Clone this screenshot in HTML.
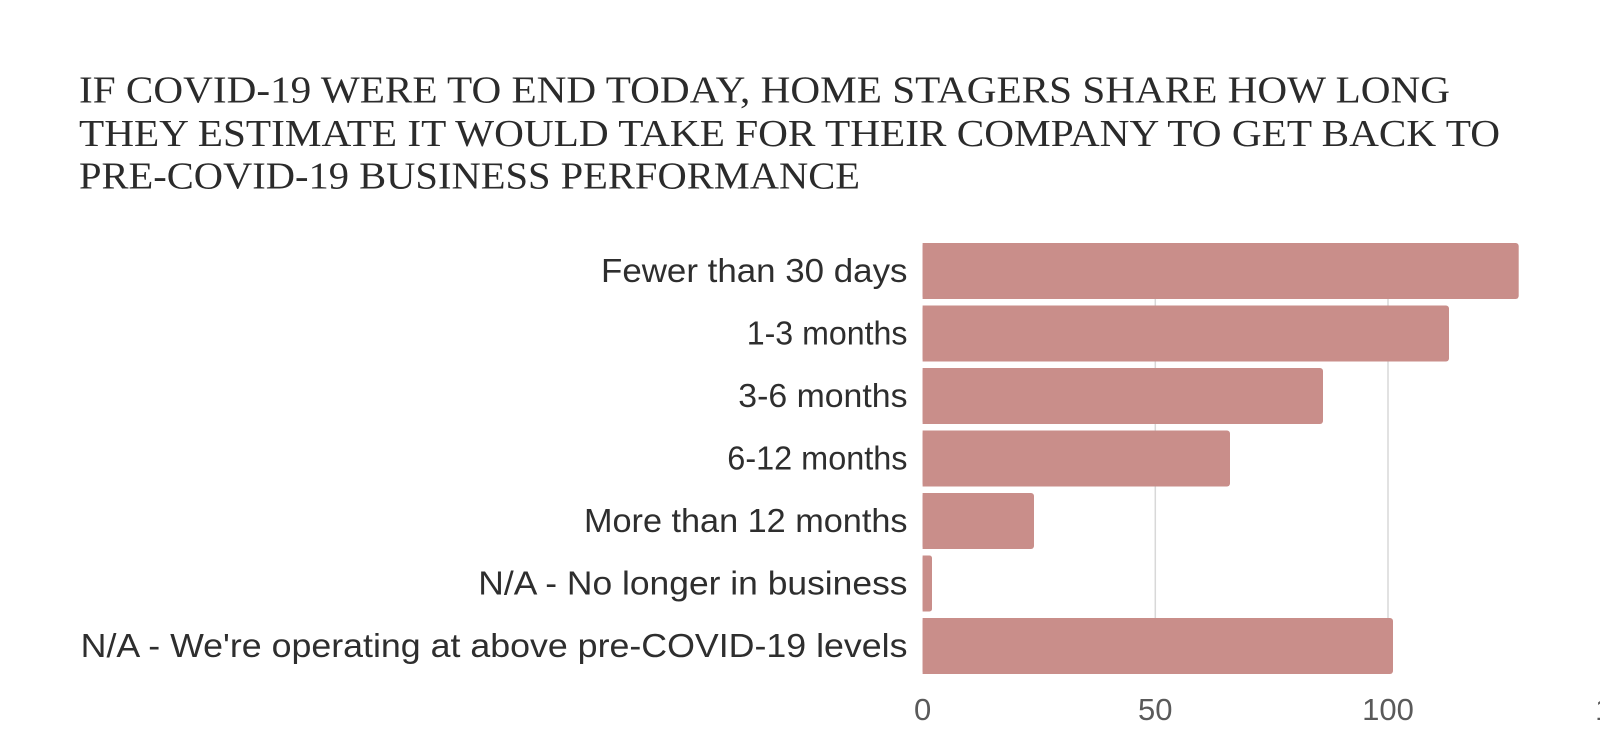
<!DOCTYPE html>
<html>
<head>
<meta charset="utf-8">
<style>
  html, body { margin: 0; padding: 0; background: #ffffff; }
  body { width: 1600px; height: 753px; overflow: hidden; }
  svg { display: block; }
</style>
</head>
<body>
<svg width="1600" height="753" viewBox="0 0 1600 753" xmlns="http://www.w3.org/2000/svg">
  <rect x="0" y="0" width="1600" height="753" fill="#ffffff"/>

  <!-- Title -->
  <g font-family="'Liberation Serif', serif" font-size="38" fill="#2b2b2b">
    <text x="79" y="102.5" textLength="1371" lengthAdjust="spacingAndGlyphs">IF COVID-19 WERE TO END TODAY, HOME STAGERS SHARE HOW LONG</text>
    <text x="79" y="146" textLength="1421" lengthAdjust="spacingAndGlyphs">THEY ESTIMATE IT WOULD TAKE FOR THEIR COMPANY TO GET BACK TO</text>
    <text x="79" y="188.5" textLength="781" lengthAdjust="spacingAndGlyphs">PRE-COVID-19 BUSINESS PERFORMANCE</text>
  </g>

  <!-- Gridlines -->
  <g stroke="#d8d8d8" stroke-width="1.5">
    <line x1="1155.3" y1="243" x2="1155.3" y2="674"/>
    <line x1="1388" y1="243" x2="1388" y2="674"/>
  </g>

  <!-- Bars -->
  <g fill="#c98e8a">
    <rect x="922.6" y="243" width="596.1" height="56" rx="3"/>
    <rect x="922.6" y="243" width="6" height="56"/>

    <rect x="922.6" y="305.5" width="526.4" height="56" rx="3"/>
    <rect x="922.6" y="305.5" width="6" height="56"/>

    <rect x="922.6" y="368" width="400.4" height="56" rx="3"/>
    <rect x="922.6" y="368" width="6" height="56"/>

    <rect x="922.6" y="430.5" width="307.4" height="56" rx="3"/>
    <rect x="922.6" y="430.5" width="6" height="56"/>

    <rect x="922.6" y="493" width="111.4" height="56" rx="3"/>
    <rect x="922.6" y="493" width="6" height="56"/>

    <rect x="922.6" y="555.5" width="9.4" height="56" rx="2.5"/>
    <rect x="922.6" y="555.5" width="4" height="56"/>

    <rect x="922.6" y="618" width="470.4" height="56" rx="3"/>
    <rect x="922.6" y="618" width="6" height="56"/>
  </g>

  <!-- Category labels -->
  <g font-family="'Liberation Sans', sans-serif" font-size="33" fill="#2e2e2e">
    <text x="601" y="282" textLength="306.5" lengthAdjust="spacingAndGlyphs">Fewer than 30 days</text>
    <text x="746.7" y="344.5" textLength="160.8" lengthAdjust="spacingAndGlyphs">1-3 months</text>
    <text x="738.3" y="407" textLength="169.2" lengthAdjust="spacingAndGlyphs">3-6 months</text>
    <text x="727.3" y="469.5" textLength="180.2" lengthAdjust="spacingAndGlyphs">6-12 months</text>
    <text x="584" y="532" textLength="323.5" lengthAdjust="spacingAndGlyphs">More than 12 months</text>
    <text x="478.3" y="594.5" textLength="429.2" lengthAdjust="spacingAndGlyphs">N/A - No longer in business</text>
    <text x="80.7" y="657" textLength="826.8" lengthAdjust="spacingAndGlyphs">N/A - We're operating at above pre-COVID-19 levels</text>
  </g>

  <!-- X axis tick labels -->
  <g font-family="'Liberation Sans', sans-serif" font-size="31" fill="#5a5a5a" text-anchor="middle">
    <text x="922.6" y="720">0</text>
    <text x="1155.3" y="720">50</text>
    <text x="1388" y="720">100</text>
    <text x="1621" y="720">150</text>
  </g>
</svg>
</body>
</html>
